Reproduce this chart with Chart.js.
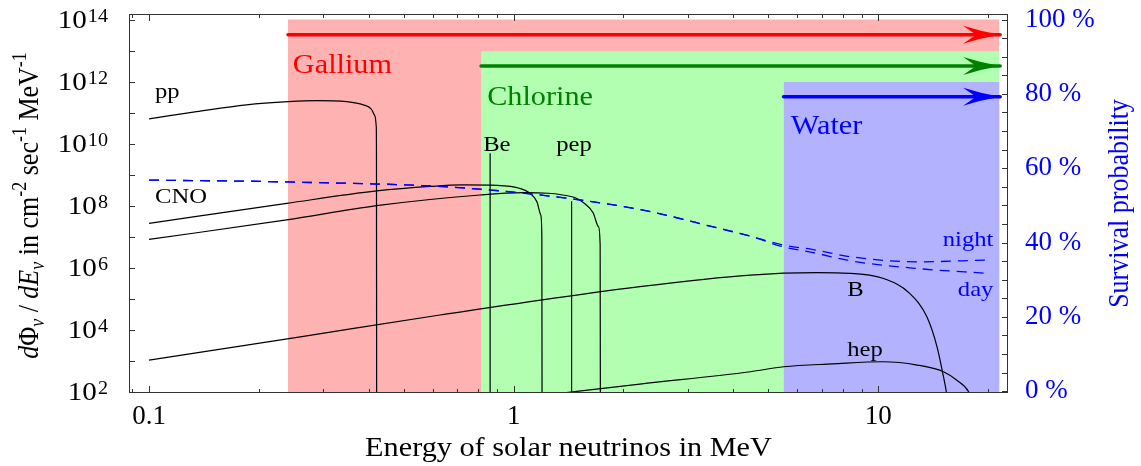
<!DOCTYPE html>
<html>
<head>
<meta charset="utf-8">
<script src="https://cdn.jsdelivr.net/npm/chart.js@4.4.1/dist/chart.umd.min.js"></script>
<style>
  html, body { margin: 0; padding: 0; background: #fff; }
  #wrap { width: 1141px; height: 466px; }
</style>
</head>
<body>
<div id="wrap"><canvas id="chart" width="1141" height="466"></canvas></div>
<script>
// Solar neutrino spectra and survival probability
// Values

// Axis ticks
const xMajorTicks = [0.1, 1, 10];
const xMinorTicks = [0.09, 0.2, 0.3, 0.4, 0.5, 0.6, 0.7, 0.8, 0.9, 2, 3, 4, 5, 6, 7, 8, 9, 20];
const fluxTicks = [1e2, 1e3, 1e4, 1e5, 1e6, 1e7, 1e8, 1e9, 1e10, 1e11, 1e12, 1e13, 1e14];
const probTicks = [0, 20, 40, 60, 80, 100];
const probMinorTicks = [0, 5, 10, 15, 20, 25, 30, 35, 40, 45, 50, 55, 60, 65, 70, 75, 80, 85, 90, 95, 100];

// Spectra: energy in MeV, flux in cm^-2 sec^-1 MeV^-1
const ppE = [0.1, 0.135, 0.185, 0.241, 0.288, 0.348, 0.387, 0.407, 0.416, 0.420, 0.4205, 0.421];
const ppF = [6.3e10, 1.07e11, 1.78e11, 2.26e11, 2.45e11, 2.26e11, 1.78e11, 1.3e11, 8e10, 3.5e10, 3e9, 1];

const n13E = [0.1, 0.2385, 0.421, 0.590, 0.727, 0.901, 1.042, 1.110, 1.158, 1.187, 1.195, 1.197];
const n13F = [2.7e7, 1.19e8, 2.98e8, 4.16e8, 4.65e8, 4.49e8, 3.59e8, 2.51e8, 1.35e8, 5.0e7, 1.1e7, 1];

const o15E = [0.1, 0.2385, 0.421, 0.809, 1.062, 1.456, 1.571, 1.652, 1.709, 1.727, 1.73];
const o15F = [8.2e6, 3.46e7, 1.0e8, 2.21e8, 2.62e8, 1.9e8, 1.13e8, 5.9e7, 2.1e7, 5.4e6, 1];

const beE = [0.862, 0.862];
const beF = [4.9e9, 1];

const pepE = [1.442, 1.442];
const pepF = [1.4e8, 1];

const b8E = [0.1, 0.26, 0.628, 2.22, 4.46, 6.79, 8.36, 10.3, 12.2, 13.6, 14.5, 15.1, 15.4, 15.7];
const b8F = [1.05e3, 5.9e3, 2.98e4, 2.44e5, 5.8e5, 6.9e5, 6.6e5, 4.55e5, 1.49e5, 2.6e4, 2.8e3, 305, 89, 15];

const hepE = [1.22, 2.22, 4.46, 5.50, 7.5, 10.3, 12.8, 15.1, 16.4, 17.7, 18.4];
const hepF = [78, 177, 442, 640, 790, 929, 727, 442, 238, 100, 30];

// Survival probability in %
const survE = [0.1, 0.2385, 0.727, 1.588, 2.32, 3.53, 4.46, 5.50, 6.63, 8.36, 12.8, 20];
const nightP = [56.8, 56.3, 54.7, 51.2, 48.5, 44.2, 41.7, 39.3, 38.1, 36.2, 34.8, 35.3];
const dayP = [56.8, 56.3, 54.7, 51.2, 48.5, 44.2, 41.7, 38.8, 37.3, 35.1, 33.0, 31.7];

// Detector thresholds
const detectors = ['Gallium', 'Chlorine', 'Water'];
const thresholdE = [0.2405, 0.814, 5.5];
const regionEndE = 21.5;
const regionTop = [100, 91.5, 83.2];
const arrowLevel = [95.9, 87.5, 79.2];
const arrowEndE = 21.6;

// Text labels in the plot (anchor in data units)
const noteText = ['pp', 'CNO', 'Be', 'pep', 'B', 'hep', 'night', 'day', 'Gallium', 'Chlorine', 'Water'];
const noteE = [0.1038, 0.1038, 0.825, 1.308, 8.22, 8.22, 20.7, 20.7, 0.248, 0.846, 5.76];
const noteV = [2.98e11, 1.22e8, 5.9e9, 5.8e9, 1.22e5, 1.42e3, 39.0, 25.6, 85.6, 77.0, 69.1];
const noteAxis = ['y', 'y', 'y', 'y', 'y', 'y', 'y1', 'y1', 'y1', 'y1', 'y1'];

const detColors = ['#ff0000', '#008000', '#0000ff'];
const detFills = ['rgb(255,178,178)', 'rgb(178,255,178)', 'rgb(178,178,255)'];
const SERIF = '"Liberation Serif", "Times New Roman", "DejaVu Serif", serif';
const STRETCH = 1.12;

function pts(xs, ys) {
    return xs.map((x, i) => ({ x: x, y: ys[i] }));
}

function stretchedText(ctx, txt, x, y, size, color, align) {
    ctx.save();
    ctx.translate(x, y);
    ctx.scale(STRETCH, 1);
    ctx.font = size + 'px ' + SERIF;
    ctx.fillStyle = color;
    ctx.textAlign = align || 'left';
    ctx.textBaseline = 'alphabetic';
    ctx.fillText(txt, 0, 0);
    ctx.restore();
}

// vertical text, reading bottom to top, baseline at screen x = cx
function rotatedText(ctx, parts, cx, cy, size, color) {
    ctx.save();
    ctx.translate(cx, cy);
    ctx.rotate(-Math.PI / 2);
    ctx.scale(1, STRETCH);
    ctx.fillStyle = color;
    ctx.textBaseline = 'alphabetic';
    ctx.textAlign = 'left';
    const small = k => k.indexOf('sub') >= 0 || k.indexOf('sup') >= 0;
    const fontFor = k => (k.indexOf('i') === 0 ? 'italic ' : '') + (small(k) ? Math.round(size * 0.68) : size) + 'px ' + SERIF;
    let total = 0;
    parts.forEach(p => { ctx.font = fontFor(p[1]); total += ctx.measureText(p[0]).width; });
    let x = -total / 2;
    parts.forEach(p => {
        ctx.font = fontFor(p[1]);
        let dy = 0;
        if (p[1].indexOf('sub') >= 0) dy = size * 0.22;
        if (p[1].indexOf('sup') >= 0) dy = -size * 0.4;
        ctx.fillText(p[0], x, dy);
        x += ctx.measureText(p[0]).width;
    });
    ctx.restore();
}

// Frame with inward tick marks, power-of-ten labels, axis titles
const framePlugin = {
    id: 'frame',
    afterDraw(chart) {
        const { ctx, chartArea: a, scales } = chart;
        ctx.save();
        ctx.strokeStyle = '#333';
        ctx.lineWidth = 1;
        ctx.strokeRect(a.left + 0.5, a.top + 0.5, a.right - a.left - 1, a.bottom - a.top - 1);
        ctx.beginPath();
        xMajorTicks.concat(xMinorTicks).forEach(v => {
            const len = xMajorTicks.includes(v) ? 7 : 4;
            const px = Math.round(scales.x.getPixelForValue(v)) + 0.5;
            ctx.moveTo(px, a.bottom); ctx.lineTo(px, a.bottom - len);
            ctx.moveTo(px, a.top); ctx.lineTo(px, a.top + len);
        });
        fluxTicks.forEach(v => {
            const py = Math.round(scales.y.getPixelForValue(v)) + 0.5;
            ctx.moveTo(a.left, py); ctx.lineTo(a.left + 6, py);
        });
        probMinorTicks.forEach(v => {
            const py = Math.round(scales.y1.getPixelForValue(v)) + 0.5;
            ctx.moveTo(a.right, py); ctx.lineTo(a.right - 6, py);
        });
        ctx.stroke();

        // 10^n labels on the left axis, every second decade
        fluxTicks.forEach(v => {
            const e = Math.round(Math.log10(v));
            if (e % 2) return;
            const py = scales.y.getPixelForValue(v);
            const right = a.left - 21;
            ctx.font = '18px ' + SERIF;
            const ew = ctx.measureText(String(e)).width * STRETCH;
            stretchedText(ctx, String(e), right, py + 2, 18, '#000', 'right');
            stretchedText(ctx, '10', right - ew - 1, py + 8.5, 26, '#000', 'right');
        });

        // axis titles
        stretchedText(ctx, 'Energy of solar neutrinos in MeV', (a.left + a.right) / 2, 456, 27, '#000', 'center');
        rotatedText(ctx, [
            ['d', 'i'], ['Φ', ''], ['ν', 'isub'], [' / ', ''], ['dE', 'i'], ['ν', 'isub'],
            [' in cm', ''], ['-2', 'sup'], [' sec', ''], ['-1', 'sup'], [' MeV', ''], ['-1', 'sup']
        ], 38, (a.top + a.bottom) / 2 + 2, 26, '#000');
        rotatedText(ctx, [['Survival probability', '']], 1128, (a.top + a.bottom) / 2, 26, '#0000ff');
        ctx.restore();
    }
};

// Arrow heads and text labels
const notesPlugin = {
    id: 'notes',
    afterDatasetsDraw(chart) {
        const { ctx, scales } = chart;
        ctx.save();
        chart.data.datasets.forEach((ds, i) => {
            if (!ds.arrowHead) return;
            const meta = chart.getDatasetMeta(i);
            const tip = meta.data[meta.data.length - 1];
            const x = tip.x, y = tip.y;
            ctx.fillStyle = ds.borderColor;
            ctx.beginPath();
            ctx.moveTo(x, y);
            ctx.quadraticCurveTo(x - 18, y - 3, x - 37, y - 9);
            ctx.quadraticCurveTo(x - 27, y - 2, x - 24, y);
            ctx.quadraticCurveTo(x - 27, y + 2, x - 37, y + 9);
            ctx.quadraticCurveTo(x - 18, y + 3, x, y);
            ctx.fill();
        });
        noteText.forEach((t, i) => {
            const px = scales.x.getPixelForValue(noteE[i]);
            const py = scales[noteAxis[i]].getPixelForValue(noteV[i]);
            const d = detectors.indexOf(t);
            if (d >= 0) {
                stretchedText(ctx, t, px, py, 27, detColors[d], 'left');
            } else if (t === 'night' || t === 'day') {
                stretchedText(ctx, t, px, py, 22, '#0000ff', 'right');
            } else {
                stretchedText(ctx, t, px, py, 22, '#000', 'left');
            }
        });
        ctx.restore();
    }
};

const curve = {
    borderColor: '#000',
    borderWidth: 1.2,
    pointRadius: 0,
    fill: false,
    cubicInterpolationMode: 'monotone',
    yAxisID: 'y',
    order: 1
};

const survival = {
    borderColor: '#0000ff',
    borderWidth: 1.3,
    borderDash: [10, 7],
    pointRadius: 0,
    fill: false,
    cubicInterpolationMode: 'monotone',
    yAxisID: 'y1',
    order: 0
};

const datasets = [];
detectors.forEach((d, i) => {
    datasets.push({
        label: d + ' range',
        data: [{ x: thresholdE[i], y: regionTop[i] }, { x: regionEndE, y: regionTop[i] }],
        borderColor: 'rgba(0,0,0,0)',
        borderWidth: 0,
        backgroundColor: detFills[i],
        fill: 'start',
        pointRadius: 0,
        yAxisID: 'y1',
        order: 10 - i
    });
});
detectors.forEach((d, i) => {
    datasets.push({
        label: d + ' threshold',
        data: [{ x: thresholdE[i], y: arrowLevel[i] }, { x: arrowEndE, y: arrowLevel[i] }],
        borderColor: detColors[i],
        borderWidth: 3.5,
        borderCapStyle: 'round',
        pointRadius: 0,
        fill: false,
        yAxisID: 'y1',
        order: 5,
        arrowHead: true
    });
});
datasets.push({ ...curve, label: 'pp', data: pts(ppE, ppF) });
datasets.push({ ...curve, label: 'N13', data: pts(n13E, n13F) });
datasets.push({ ...curve, label: 'O15', data: pts(o15E, o15F) });
datasets.push({ ...curve, label: 'Be', data: pts(beE, beF) });
datasets.push({ ...curve, label: 'pep', data: pts(pepE, pepF) });
datasets.push({ ...curve, label: 'B', data: pts(b8E, b8F) });
datasets.push({ ...curve, label: 'hep', data: pts(hepE, hepF) });
datasets.push({ ...survival, label: 'night', data: pts(survE, nightP) });
datasets.push({ ...survival, label: 'day', data: pts(survE, dayP) });

const tickFont = { family: SERIF, size: 27 };
const noGrid = { display: false, drawTicks: false };

new Chart(document.getElementById('chart'), {
    type: 'line',
    data: { datasets: datasets },
    options: {
        responsive: false,
        animation: false,
        events: [],
        layout: { padding: { top: 14, left: 0, right: 0, bottom: 0 } },
        plugins: {
            legend: { display: false },
            tooltip: { enabled: false }
        },
        scales: {
            x: {
                type: 'logarithmic',
                min: 0.0881,
                max: 22.7,
                grid: noGrid,
                border: { display: false },
                afterBuildTicks: s => { s.ticks = xMajorTicks.map(v => ({ value: v })); },
                afterFit: s => { s.height = 73; s.paddingLeft = 0; s.paddingRight = 0; },
                ticks: {
                    autoSkip: false,
                    maxRotation: 0,
                    padding: 8,
                    color: '#000',
                    font: tickFont,
                    callback: v => String(v)
                }
            },
            y: {
                type: 'logarithmic',
                position: 'left',
                min: Math.pow(10, 1.96),
                max: Math.pow(10, 14.18),
                grid: noGrid,
                border: { display: false },
                afterBuildTicks: s => { s.ticks = fluxTicks.map(v => ({ value: v })); },
                afterFit: s => { s.width = 129; s.paddingTop = 0; s.paddingBottom = 0; },
                ticks: { display: false }
            },
            y1: {
                type: 'linear',
                position: 'right',
                min: -0.5,
                max: 101.5,
                grid: noGrid,
                border: { display: false },
                afterBuildTicks: s => { s.ticks = probTicks.map(v => ({ value: v })); },
                afterFit: s => { s.width = 133; s.paddingTop = 0; s.paddingBottom = 0; },
                ticks: {
                    autoSkip: false,
                    padding: 17,
                    color: '#0000ff',
                    font: tickFont,
                    callback: v => v + ' %'
                }
            }
        }
    },
    plugins: [framePlugin, notesPlugin]
});
</script>
</body>
</html>
